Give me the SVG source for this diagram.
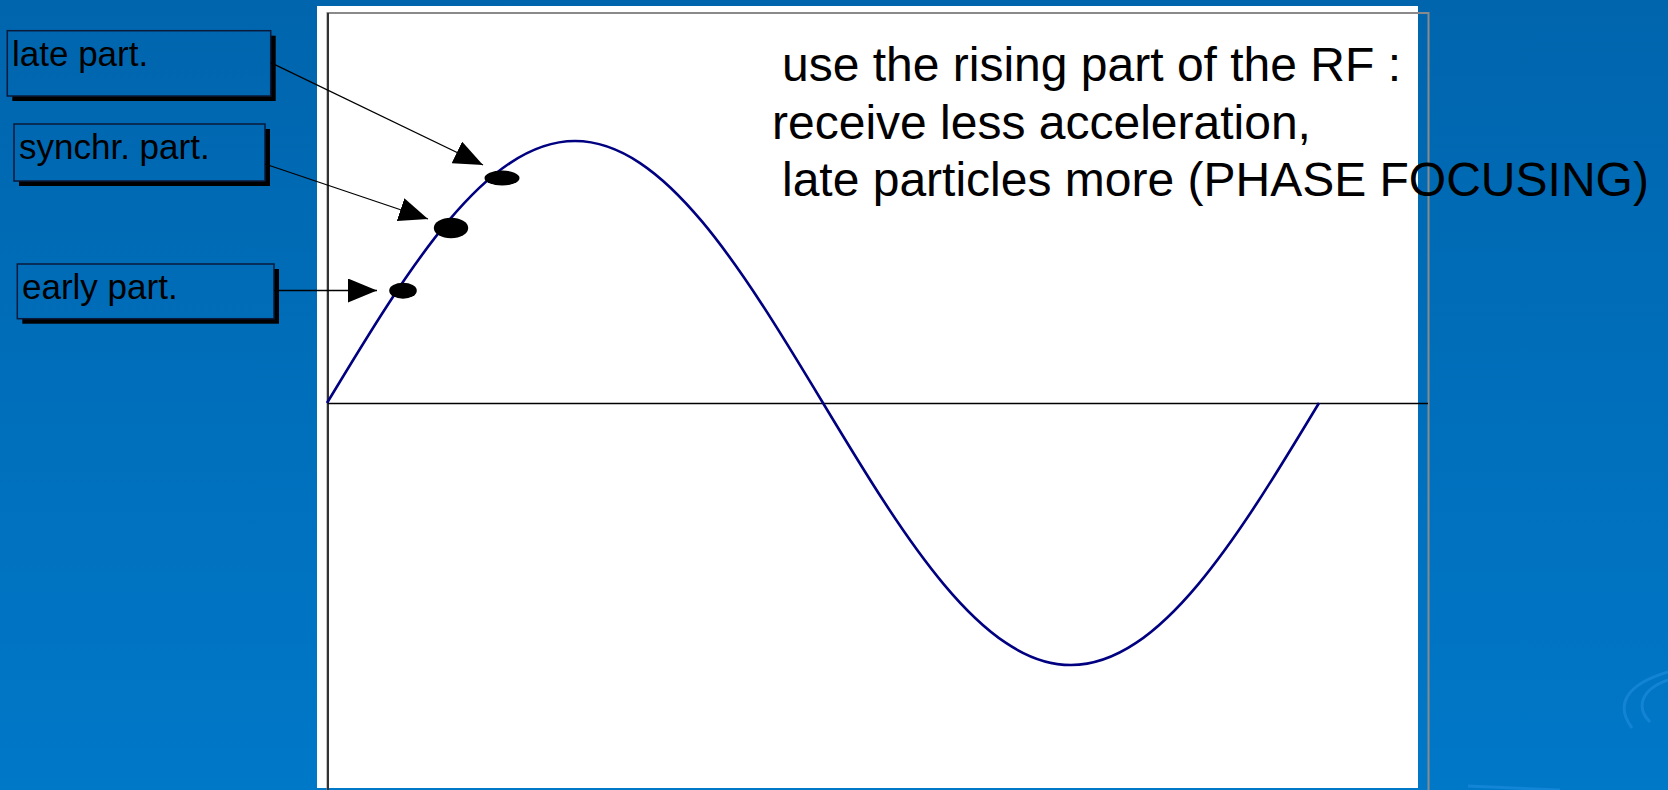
<svg xmlns="http://www.w3.org/2000/svg" width="1668" height="790" viewBox="0 0 1668 790">
  <defs>
    <linearGradient id="bg" gradientUnits="userSpaceOnUse" x1="0" y1="0" x2="0" y2="790">
      <stop offset="0" stop-color="#0065ad"/>
      <stop offset="1" stop-color="#0078c8"/>
    </linearGradient>
    <marker id="arrow" markerUnits="userSpaceOnUse" markerWidth="30" markerHeight="24" refX="29" refY="12" orient="auto">
      <path d="M0,0 L29,12 L0,24 z" fill="#000"/>
    </marker>
    <style>
      .box { fill: url(#bg); stroke: #0a1a3a; stroke-width: 1.5; }
      .shadow { fill: #000; }
      .lbl { font-family: "Liberation Sans", Arial, sans-serif; font-size: 35px; fill: #000; }
      .big { font-family: "Liberation Sans", Arial, sans-serif; font-size: 48px; fill: #000; }
      .conn { stroke: #000; stroke-width: 1.3; fill: none; marker-end: url(#arrow); }
      .dot { fill: #000; }
      .swirl { fill: none; stroke: #2a95e6; stroke-width: 3; opacity: 0.45; }
    </style>
  </defs>

  <rect x="0" y="0" width="1668" height="790" fill="url(#bg)"/>
  <g id="decor">
    <path class="swirl" d="M1632,728 C1615,705 1625,685 1668,672"/>
    <path class="swirl" d="M1650,722 C1636,708 1640,690 1668,680"/>
    <path class="swirl" d="M1468,786 L1560,790"/>
  </g>

  <g id="plot">
    <rect x="317" y="6" width="1101" height="782" fill="#fff"/>
    <path d="M327.5,790 L327.5,13 L1428.5,13 L1428.5,790" fill="none" stroke="#8a8a8a" stroke-width="2"/>
    <line x1="328" y1="13" x2="328" y2="790" stroke="#333" stroke-width="2"/>
    <line x1="328" y1="403.5" x2="1428" y2="403.5" stroke="#000" stroke-width="1.3"/>
    <path id="rf" d="M327,403 C407.9,268.8 485.7,141 575,141 C664.3,141 742.1,268.8 823,403 C903.9,537.2 981.7,665 1071,665 C1160.3,665 1238.1,537.2 1319,403" fill="none" stroke="#000080" stroke-width="2.6"/>
  </g>

  <g id="text-main">
    <text class="big" x="782" y="81">use the rising part of the RF :</text>
    <text class="big" x="772" y="139">receive less acceleration,</text>
    <text class="big" x="782" y="196">late particles more (PHASE FOCUSING)</text>
  </g>

  <g id="late-part">
    <rect class="shadow" x="12.3" y="35.7" width="263.4" height="65.3"/>
    <rect class="box" x="7.3" y="30.7" width="263.4" height="65.3"/>
    <text class="lbl" x="12" y="66">late part.</text>
  </g>
  <g id="synchr-part">
    <rect class="shadow" x="19" y="129" width="251" height="57"/>
    <rect class="box" x="14" y="124" width="251" height="57"/>
    <text class="lbl" x="19" y="159">synchr. part.</text>
  </g>
  <g id="early-part">
    <rect class="shadow" x="22.3" y="269" width="256.7" height="54.7"/>
    <rect class="box" x="17.3" y="264" width="256.7" height="54.7"/>
    <text class="lbl" x="22" y="299">early part.</text>
  </g>

  <g id="dot-late"><ellipse class="dot" cx="502" cy="178" rx="17.5" ry="7.5"/></g>
  <g id="dot-synchr"><ellipse class="dot" cx="451" cy="228" rx="17.2" ry="10.3"/></g>
  <g id="dot-early"><ellipse class="dot" cx="403" cy="290.7" rx="13.8" ry="8"/></g>

  <g id="connectors">
    <line class="conn" x1="270.7" y1="62.7" x2="483" y2="165"/>
    <line class="conn" x1="265" y1="164" x2="428" y2="219"/>
    <line class="conn" x1="274" y1="290.5" x2="377" y2="290.5"/>
  </g>
</svg>
